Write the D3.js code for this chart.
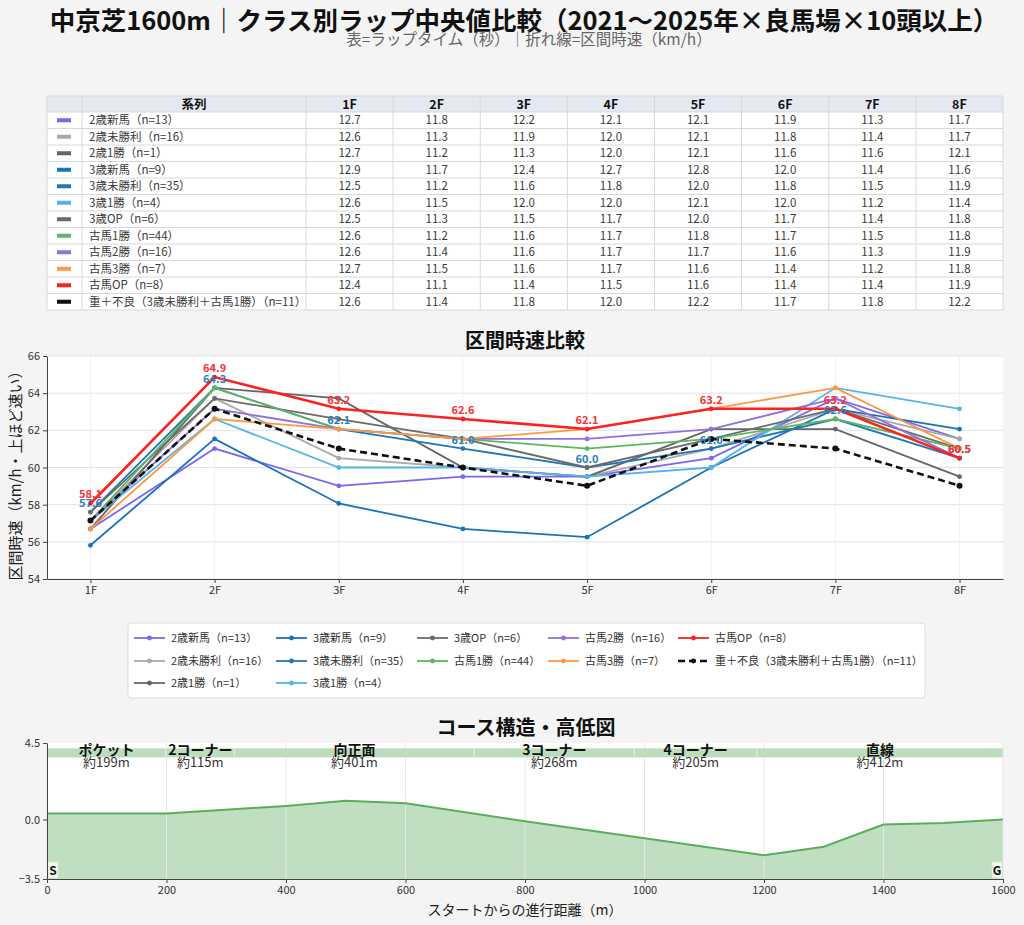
<!DOCTYPE html>
<html>
<head>
<meta charset="utf-8">
<script src="https://cdn.jsdelivr.net/npm/d3@7"></script>
<style>
  body { margin: 0; background: #f4f4f4; }
  svg { display: block; font-family: "Noto Sans CJK JP", "Noto Sans", sans-serif; }
</style>
</head>
<body>
<svg id="chart" width="1024" height="925"></svg>
<script>
// ---- data ----
const categories = ["1F", "2F", "3F", "4F", "5F", "6F", "7F", "8F"];
const seriesNames = ["2歳新馬", "2歳未勝利", "2歳1勝", "3歳新馬", "3歳未勝利", "3歳1勝",
  "3歳OP", "古馬1勝", "古馬2勝", "古馬3勝", "古馬OP", "重＋不良（3歳未勝利＋古馬1勝）"];
const seriesN = [13, 16, 1, 9, 35, 4, 6, 44, 16, 7, 8, 11];
// lap times (sec) per series, 1F..8F
const lapTimes = [
  [12.7, 11.8, 12.2, 12.1, 12.1, 11.9, 11.3, 11.7],
  [12.6, 11.3, 11.9, 12.0, 12.1, 11.8, 11.4, 11.7],
  [12.7, 11.2, 11.3, 12.0, 12.1, 11.6, 11.6, 12.1],
  [12.9, 11.7, 12.4, 12.7, 12.8, 12.0, 11.4, 11.6],
  [12.5, 11.2, 11.6, 11.8, 12.0, 11.8, 11.5, 11.9],
  [12.6, 11.5, 12.0, 12.0, 12.1, 12.0, 11.2, 11.4],
  [12.5, 11.3, 11.5, 11.7, 12.0, 11.7, 11.4, 11.8],
  [12.6, 11.2, 11.6, 11.7, 11.8, 11.7, 11.5, 11.8],
  [12.6, 11.4, 11.6, 11.7, 11.7, 11.6, 11.3, 11.9],
  [12.7, 11.5, 11.6, 11.7, 11.6, 11.4, 11.2, 11.8],
  [12.4, 11.1, 11.4, 11.5, 11.6, 11.4, 11.4, 11.9],
  [12.6, 11.4, 11.8, 12.0, 12.2, 11.7, 11.8, 12.2]
];
const labeledSeries = [4, 10];          // 3歳未勝利, 古馬OP get value labels
const speedTicks = [54, 56, 58, 60, 62, 64, 66];

const sectionNames = ["ポケット", "2コーナー", "向正面", "3コーナー", "4コーナー", "直線"];
const sectionLengths = [199, 115, 401, 268, 205, 412];
const elevDist = [0, 200, 400, 500, 600, 800, 1000, 1200, 1300, 1400, 1500, 1600];
const elevHeight = [0.35, 0.35, 0.8, 1.1, 0.95, -0.1, -1.1, -2.1, -1.6, -0.3, -0.2, 0.0];
const elevTicks = [-3.5, 0.0, 4.5];
const distTicks = [0, 200, 400, 600, 800, 1000, 1200, 1400, 1600];

// ---- styles ----
const colors = ["#7b68ee", "#aaaaaa", "#666666", "#1a72bb", "#1f77b4", "#56b4e9",
  "#6b6b6b", "#5cb85c", "#9370db", "#ff9940", "#ff2020", "#111111"];
const font = '"Noto Sans CJK JP", "Noto Sans", sans-serif';

const svg = d3.select("#chart");
const speed = t => 720 / t;   // 200m / t sec -> km/h

// ---- titles ----
svg.append("text").attr("x", 524).attr("y", 30).attr("text-anchor", "middle")
  .attr("font-size", 25.5).attr("font-weight", "bold").attr("fill", "#111")
  .text("中京芝1600m｜クラス別ラップ中央値比較（2021～2025年×良馬場×10頭以上）");
svg.append("text").attr("x", 529).attr("y", 45).attr("text-anchor", "middle")
  .attr("font-size", 15.5).attr("fill", "#666")
  .text("表=ラップタイム（秒）｜折れ線=区間時速（km/h）");

// ---- table ----
const tbl = svg.append("g");
const colEdges = [47, 82, 306].concat(d3.range(1, 9).map(i => 306 + i * 87.125));
const headTop = 96, headH = 16, rowH = 16.5;
const fmt = d3.format(".1f");

tbl.append("rect").attr("x", 47).attr("y", headTop).attr("width", 956).attr("height", headH)
  .attr("fill", "#e4e9f1");
tbl.append("rect").attr("x", 47).attr("y", headTop + headH).attr("width", 956)
  .attr("height", rowH * seriesNames.length).attr("fill", "#fff");

const headers = [""].concat(["系列"], categories);
headers.forEach((h, i) => {
  tbl.append("text").attr("x", (colEdges[i] + colEdges[i + 1]) / 2).attr("y", headTop + 12.5)
    .attr("text-anchor", "middle").attr("font-size", 12.5).attr("font-weight", "bold")
    .attr("fill", "#111").text(h);
});

seriesNames.forEach((name, r) => {
  const cy = headTop + headH + rowH * r + rowH / 2;
  tbl.append("rect").attr("x", 57).attr("y", cy - 2).attr("width", 14).attr("height", 4)
    .attr("fill", colors[r]);
  tbl.append("text").attr("x", 89).attr("y", cy + 4).attr("font-size", 11.5).attr("fill", "#3a3a3a")
    .text(`${name}（n=${seriesN[r]}）`);
  lapTimes[r].forEach((v, c) => {
    tbl.append("text").attr("x", (colEdges[c + 2] + colEdges[c + 3]) / 2).attr("y", cy + 4)
      .attr("text-anchor", "middle").attr("font-size", 11.5).attr("fill", "#3a3a3a").text(fmt(v));
  });
});

// grid lines of the table
d3.range(seriesNames.length + 2).forEach(i => {
  const yy = i === 0 ? headTop : headTop + headH + rowH * (i - 1);
  tbl.append("line").attr("x1", 47).attr("x2", 1003).attr("y1", yy).attr("y2", yy)
    .attr("stroke", "#d5d9df").attr("stroke-width", 1);
});
colEdges.forEach(xx => {
  tbl.append("line").attr("x1", xx).attr("x2", xx).attr("y1", headTop)
    .attr("y2", headTop + headH + rowH * seriesNames.length)
    .attr("stroke", "#d5d9df").attr("stroke-width", 1);
});

// ---- speed line chart ----
const L = { left: 47, right: 1003, top: 356, bottom: 579 };
const x = d3.scaleLinear().domain([-0.35, 7.35]).range([L.left, L.right]);
const y = d3.scaleLinear().domain([54, 66]).range([L.bottom, L.top]);

svg.append("text").attr("x", 525).attr("y", 348).attr("text-anchor", "middle")
  .attr("font-size", 20).attr("font-weight", "bold").attr("fill", "#111").text("区間時速比較");

const lc = svg.append("g");
lc.append("rect").attr("x", L.left).attr("y", L.top).attr("width", L.right - L.left)
  .attr("height", L.bottom - L.top).attr("fill", "#fff");

lc.append("g").selectAll("line").data(speedTicks).join("line")
  .attr("x1", L.left).attr("x2", L.right).attr("y1", d => y(d)).attr("y2", d => y(d))
  .attr("stroke", "#e2e3ee").attr("stroke-width", 1);
lc.append("g").selectAll("line").data(d3.range(categories.length)).join("line")
  .attr("x1", d => x(d)).attr("x2", d => x(d)).attr("y1", L.top).attr("y2", L.bottom)
  .attr("stroke", "#f0f0f4").attr("stroke-width", 1);

const line = d3.line().x((d, i) => x(i)).y(d => y(speed(d)));

lapTimes.forEach((laps, s) => {
  const g = lc.append("g");
  const isDash = s === 11, isTop = s === 10;
  g.append("path").attr("d", line(laps)).attr("fill", "none").attr("stroke", colors[s])
    .attr("stroke-width", isDash || isTop ? 2.6 : 1.8)
    .attr("stroke-dasharray", isDash ? "7,4" : null);
  g.selectAll("circle").data(laps).join("circle")
    .attr("cx", (d, i) => x(i)).attr("cy", d => y(speed(d)))
    .attr("r", isDash ? 3 : 2.4).attr("fill", colors[s]);
});

labeledSeries.forEach(s => {
  lc.append("g").selectAll("text").data(lapTimes[s]).join("text")
    .attr("x", (d, i) => x(i)).attr("y", d => y(speed(d)) - 5)
    .attr("text-anchor", "middle").attr("font-size", 11).attr("font-weight", "bold")
    .attr("fill", s === 10 ? "#ff3030" : "#2a7fc0")
    .text(d => fmt(speed(d)));
});

lc.append("g").attr("transform", `translate(${L.left},0)`)
  .call(d3.axisLeft(y).tickValues(speedTicks).tickSize(4).tickSizeOuter(0).tickFormat(d3.format("d")))
  .call(g => g.select(".domain").attr("stroke", "#444"))
  .call(g => g.selectAll(".tick line").attr("stroke", "#444"))
  .call(g => g.selectAll("text").attr("font-size", 11).attr("fill", "#333").attr("font-family", font));
lc.append("g").attr("transform", `translate(0,${L.bottom})`)
  .call(d3.axisBottom(x).tickValues(d3.range(categories.length)).tickSize(4).tickSizeOuter(0)
    .tickFormat(i => categories[i]))
  .call(g => g.select(".domain").attr("stroke", "#444"))
  .call(g => g.selectAll(".tick line").attr("stroke", "#444"))
  .call(g => g.selectAll("text").attr("font-size", 11).attr("fill", "#333").attr("font-family", font));

svg.append("text").attr("transform", `translate(21,472) rotate(-90)`)
  .attr("text-anchor", "middle").attr("font-size", 15).attr("fill", "#222")
  .text("区間時速（km/h・上ほど速い）");

// ---- legend ----
const leg = svg.append("g");
leg.append("rect").attr("x", 128).attr("y", 623).attr("width", 797).attr("height", 75)
  .attr("rx", 3).attr("fill", "#fff").attr("stroke", "#dddddd");
const legColX = [134, 276, 417, 548, 678];
const legColCount = [3, 3, 2, 2, 2];
const legRowY = [638, 661, 683];
let idx = 0;
legColCount.forEach((cnt, c) => {
  d3.range(cnt).forEach(r => {
    const s = idx++;
    const gx = legColX[c], gy = legRowY[r];
    leg.append("line").attr("x1", gx).attr("x2", gx + 31).attr("y1", gy).attr("y2", gy)
      .attr("stroke", colors[s]).attr("stroke-width", s === 11 ? 2.6 : 1.8)
      .attr("stroke-dasharray", s === 11 ? "7,4" : null);
    leg.append("circle").attr("cx", gx + 15.5).attr("cy", gy).attr("r", 2.4).attr("fill", colors[s]);
    leg.append("text").attr("x", gx + 37).attr("y", gy + 4).attr("font-size", 11).attr("fill", "#333")
      .text(`${seriesNames[s]}（n=${seriesN[s]}）`);
  });
});

// ---- course profile ----
const C = { left: 47, right: 1003, top: 743, bottom: 879 };
const cx = d3.scaleLinear().domain([0, 1600]).range([C.left, C.right]);
const cy = d3.scaleLinear().domain([-3.5, 4.5]).range([C.bottom, C.top]);

svg.append("text").attr("x", 526).attr("y", 735).attr("text-anchor", "middle")
  .attr("font-size", 20).attr("font-weight", "bold").attr("fill", "#111").text("コース構造・高低図");

const cc = svg.append("g");
cc.append("rect").attr("x", C.left).attr("y", C.top).attr("width", C.right - C.left)
  .attr("height", C.bottom - C.top).attr("fill", "#fff");

const elev = elevDist.map((d, i) => ({ d, h: elevHeight[i] }));
cc.append("path")
  .attr("d", d3.area().x(p => cx(p.d)).y0(cy(-3.5)).y1(p => cy(p.h))(elev))
  .attr("fill", "#c0dfc0");

cc.append("g").selectAll("line").data(distTicks).join("line")
  .attr("x1", d => cx(d)).attr("x2", d => cx(d)).attr("y1", C.top).attr("y2", C.bottom)
  .attr("stroke", "#e4e8e4").attr("stroke-width", 1);

cc.append("path")
  .attr("d", d3.line().x(p => cx(p.d)).y(p => cy(p.h))(elev))
  .attr("fill", "none").attr("stroke", "#5aae5a").attr("stroke-width", 2);

// section band
const starts = d3.cumsum([0].concat(sectionLengths.slice(0, -1)));
sectionNames.forEach((name, i) => {
  const s0 = starts[i], s1 = s0 + sectionLengths[i], mid = (s0 + s1) / 2;
  cc.append("rect").attr("x", cx(s0)).attr("y", cy(4.2)).attr("width", cx(s1) - cx(s0))
    .attr("height", cy(3.65) - cy(4.2)).attr("fill", "#bddcbd")
    .attr("stroke", "#e8f2e8").attr("stroke-width", 0.8);
  cc.append("text").attr("x", cx(mid)).attr("y", 755).attr("text-anchor", "middle")
    .attr("font-size", 14).attr("font-weight", "bold").attr("fill", "#111").text(name);
  cc.append("text").attr("x", cx(mid)).attr("y", 767).attr("text-anchor", "middle")
    .attr("font-size", 13).attr("fill", "#333").text(`約${sectionLengths[i]}m`);
});

// start / goal markers
[["S", 0, "start"], ["G", 1600, "end"]].forEach(([t, d, anchor]) => {
  const bx = anchor === "start" ? cx(d) + 1 : cx(d) - 11;
  cc.append("rect").attr("x", bx).attr("y", 862).attr("width", 10).attr("height", 16)
    .attr("fill", "#f2f8ee").attr("stroke", "#d8e8d0").attr("stroke-width", 0.6);
  cc.append("text").attr("x", bx + 5).attr("y", 875).attr("text-anchor", "middle")
    .attr("font-size", 12).attr("font-weight", "bold").attr("fill", "#111").text(t);
});

cc.append("g").attr("transform", `translate(${C.left},0)`)
  .call(d3.axisLeft(cy).tickValues(elevTicks).tickSize(4).tickSizeOuter(0).tickFormat(d3.format(".1f")))
  .call(g => g.select(".domain").attr("stroke", "#444"))
  .call(g => g.selectAll(".tick line").attr("stroke", "#444"))
  .call(g => g.selectAll("text").attr("font-size", 11).attr("fill", "#333").attr("font-family", font));
cc.append("g").attr("transform", `translate(0,${C.bottom})`)
  .call(d3.axisBottom(cx).tickValues(distTicks).tickSize(4).tickSizeOuter(0).tickFormat(d3.format("d")))
  .call(g => g.select(".domain").attr("stroke", "#444"))
  .call(g => g.selectAll(".tick line").attr("stroke", "#444"))
  .call(g => g.selectAll("text").attr("font-size", 11).attr("fill", "#333").attr("font-family", font));

svg.append("text").attr("x", 525).attr("y", 915).attr("text-anchor", "middle")
  .attr("font-size", 14).attr("fill", "#222").text("スタートからの進行距離（m）");
</script>
</body>
</html>
